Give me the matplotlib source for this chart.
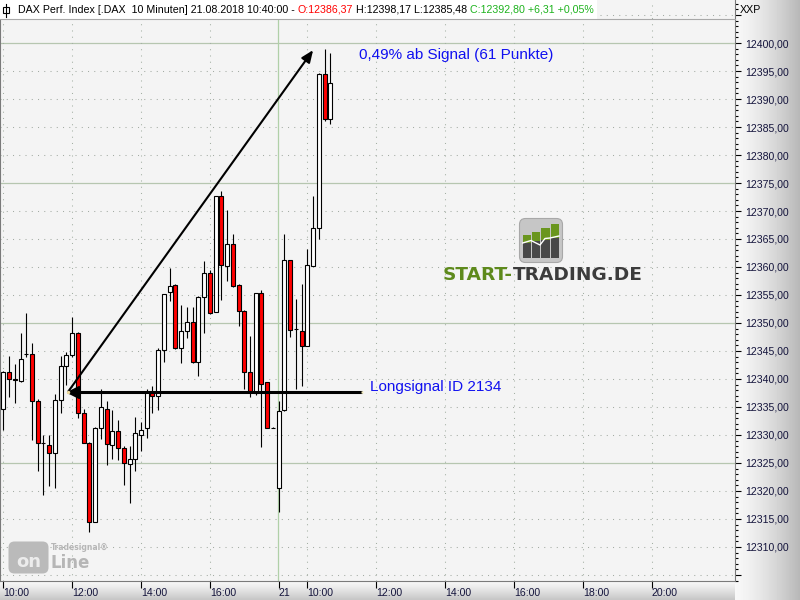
import numpy as np
import matplotlib
matplotlib.use("Agg")
import matplotlib.pyplot as plt
from matplotlib.patches import Rectangle, FancyBboxPatch
from matplotlib.ticker import MultipleLocator, FuncFormatter

plt.rcParams['font.family'] = ['Liberation Sans', 'DejaVu Sans']

# DAX Perf. Index, 10-Minuten-Kerzen: 20.08.2018 10:00 - 21.08.2018 10:40
day1_times = ["10:00", "10:10", "10:20", "10:30", "10:40", "10:50",
              "11:00", "11:10", "11:20", "11:30", "11:40", "11:50",
              "12:00", "12:10", "12:20", "12:30", "12:40", "12:50",
              "13:00", "13:10", "13:20", "13:30", "13:40", "13:50",
              "14:00", "14:10", "14:20", "14:30", "14:40", "14:50",
              "15:00", "15:10", "15:20", "15:30", "15:40", "15:50",
              "16:00", "16:10", "16:20", "16:30", "16:40", "16:50",
              "17:00", "17:10", "17:20", "17:30", "17:40", "17:50"]
day2_times = ["09:10", "09:20", "09:30", "09:40", "09:50",
              "10:00", "10:10", "10:20", "10:30", "10:40"]

opens = [12334.6, 12341.3, 12340.0, 12339.7, 12344.5, 12344.5, 12336.0, 12328.6, 12328.3, 12326.8,
         12336.3, 12342.3, 12344.3, 12348.3, 12333.9, 12328.6, 12314.5, 12331.2, 12334.6, 12328.3,
         12330.8, 12327.6, 12324.8, 12325.7, 12330.0, 12331.2, 12337.6, 12337.0, 12345.2, 12355.6,
         12356.8, 12345.5, 12348.5, 12350.1, 12343.1, 12354.6, 12358.9, 12352.0, 12372.6, 12360.1,
         12364.1, 12356.8, 12352.2, 12341.2, 12337.5, 12355.3, 12339.4, 12331.3,
         12320.5, 12334.5, 12361.3, 12349.0, 12348.6, 12345.9, 12360.2, 12366.9, 12394.5, 12386.37]
highs = [12341.5, 12344.1, 12342.7, 12348.2, 12351.7, 12346.5, 12336.4, 12330.0, 12330.0, 12337.3,
         12344.1, 12344.8, 12351.1, 12348.4, 12334.6, 12328.8, 12331.5, 12338.3, 12336.0, 12334.5,
         12332.7, 12328.0, 12328.0, 12333.2, 12332.4, 12338.2, 12338.8, 12345.5, 12355.2, 12359.9,
         12356.9, 12353.2, 12352.9, 12352.9, 12354.8, 12361.1, 12359.5, 12372.7, 12373.5, 12370.2,
         12365.9, 12356.9, 12352.3, 12347.7, 12355.3, 12355.9, 12339.4, 12331.4,
         12336.0, 12365.9, 12361.3, 12354.2, 12357.0, 12363.2, 12372.7, 12394.6, 12398.9, 12398.17]
lows = [12330.9, 12336.8, 12335.8, 12339.5, 12344.0, 12329.1, 12323.5, 12319.3, 12320.9, 12320.5,
        12333.9, 12338.9, 12344.0, 12333.0, 12328.5, 12312.6, 12314.4, 12329.3, 12324.6, 12325.8,
        12325.5, 12321.0, 12317.8, 12323.6, 12327.2, 12329.4, 12333.9, 12334.5, 12343.1, 12354.0,
        12345.4, 12342.9, 12347.3, 12342.8, 12340.6, 12348.3, 12351.6, 12351.9, 12354.1, 12357.5,
        12356.5, 12349.5, 12338.2, 12336.7, 12337.1, 12327.9, 12331.2, 12331.2,
        12316.3, 12334.3, 12347.5, 12338.3, 12338.8, 12345.9, 12360.1, 12365.0, 12386.0, 12385.48]
closes = [12341.3, 12340.0, 12339.8, 12343.5, 12344.4, 12336.0, 12328.6, 12328.5, 12326.8, 12336.3,
          12342.3, 12344.3, 12348.2, 12333.9, 12328.6, 12314.5, 12331.2, 12335.0, 12328.4, 12330.8,
          12327.6, 12325.0, 12325.7, 12330.3, 12330.9, 12337.6, 12337.0, 12345.2, 12355.1, 12356.6,
          12345.5, 12348.5, 12350.1, 12343.1, 12354.6, 12358.9, 12351.7, 12372.6, 12360.4, 12364.1,
          12356.6, 12352.2, 12341.2, 12337.9, 12355.3, 12339.1, 12331.2, 12331.2,
          12334.2, 12361.3, 12348.8, 12348.9, 12345.9, 12360.4, 12366.9, 12394.5, 12386.49, 12392.80]

# Signal
signal_level = 12337.73
signal_bar = 11.3
signal_points = 61
target_bar = 54.0
line_end_bar = 62.5

# x-axis ticks: (day, time) -> label
tick_spec = [(1, "10:00"), (1, "12:00"), (1, "14:00"), (1, "16:00"), (2, "09:10"), (2, "10:00"),
             (2, "12:00"), (2, "14:00"), (2, "16:00"), (2, "18:00"), (2, "20:00")]
tick_labels = ["10:00", "12:00", "14:00", "16:00", "21", "10:00",
               "12:00", "14:00", "16:00", "18:00", "20:00"]


def to_min(t):
    hh, mm = t.split(':')
    return int(hh) * 60 + int(mm)


day2_start = len(day1_times)


def bar_pos(day, t):
    if day == 1:
        return (to_min(t) - to_min(day1_times[0])) / 10
    return day2_start + (to_min(t) - to_min(day2_times[0])) / 10


tick_pos = [bar_pos(d, t) for d, t in tick_spec]


def fmt(v):
    return f"{v:.2f}".replace('.', ',')


fig = plt.figure(figsize=(8, 6), dpi=100)
fig.patch.set_facecolor('white')

# background bands (axis areas), pixel coordinates
bg = fig.add_axes([0, 0, 1, 1], zorder=-1)
bg.axis('off')
t = np.linspace(0, 1, 65)
right_grad = (0.97 - 0.25 * t ** 1.4)[None, :]
bg.imshow(right_grad, cmap='gray', vmin=0, vmax=1, extent=(735, 800, 600, 0),
          aspect='auto', origin='upper')
tb = np.linspace(0, 1, 20)
bottom_grad = (0.98 - 0.2 * tb ** 1.2)[:, None]
bg.imshow(bottom_grad, cmap='gray', vmin=0, vmax=1, extent=(0, 735, 600, 580.7),
          aspect='auto', origin='upper')
bg.set_xlim(0, 800)
bg.set_ylim(600, 0)

# main chart
ax = fig.add_axes([0, 19.3 / 600, 735 / 800, 580.7 / 600])
ax.set_facecolor('#f4f4f4')
ax.set_xlim(-0.575, 127.54)
ax.set_ylim(12303.98, 12407.68)

# grid
dot = (0, (1, 5))
for lvl in np.arange(12305, 12410, 5):
    if lvl % 25 == 0:
        ax.axhline(lvl, color='#b6c6b0', lw=0.9, zorder=1)
    else:
        ax.axhline(lvl, color='#a4aca4', lw=0.75, ls=dot, zorder=1)
for p, lab in zip(tick_pos, tick_labels):
    if p == day2_start:
        ax.axvline(p - 0.1, color='#b0d0a8', lw=0.9, zorder=1)
    else:
        ax.axvline(p, color='#a4b0a4', lw=0.75, ls=dot, zorder=1)

# candles
o = np.array(opens)
h = np.array(highs)
l = np.array(lows)
c = np.array(closes)
idx = np.arange(len(o))
up = c >= o
ax.vlines(idx, l, h, color='black', lw=0.8, zorder=3)
ax.bar(idx, np.abs(c - o), bottom=np.minimum(o, c), width=0.7,
       color=np.where(up, 'white', '#ff0000'), edgecolor='black', linewidth=0.8, zorder=4)

# signal line and arrow
ax.plot([signal_bar, line_end_bar], [signal_level, signal_level], color='black', lw=2.2,
        solid_capstyle='butt', zorder=5)
ax.annotate('', xy=(target_bar, signal_level + signal_points), xytext=(signal_bar, signal_level),
            arrowprops=dict(arrowstyle='-|>,head_length=0.6,head_width=0.25', color='black',
                            lw=1.5, mutation_scale=12, shrinkA=0, shrinkB=0), zorder=6)
ax.plot(signal_bar + 0.85, signal_level, marker='<', ms=8, color='black', zorder=6)
ax.plot(signal_bar, signal_level, marker='o', ms=2.5, color='#f0dca0', mec='none', zorder=7)
ax.plot(line_end_bar, signal_level, marker='s', ms=2, color='#f8f0c0', mec='none', zorder=7)

pct = signal_points / signal_level * 100
ax.text(62.0, 12397.9, f"{fmt(pct)}% ab Signal ({signal_points} Punkte)",
        color='#1010f0', fontsize=11, va='center', ha='left', zorder=7)
ax.text(63.9, 12338.6, "Longsignal ID 2134", color='#1010f0', fontsize=11,
        va='center', ha='left', zorder=7)

# axes
ax.yaxis.tick_right()
ax.yaxis.set_major_locator(MultipleLocator(5))
ax.yaxis.set_minor_locator(MultipleLocator(1))
ax.yaxis.set_major_formatter(FuncFormatter(lambda v, _: fmt(v) if 12307 < v <= 12400 else ''))
ax.tick_params(axis='y', which='major', length=4, width=0.8, direction='out', pad=3,
               labelsize=7.6, labelcolor='#14143c', color='black')
ax.tick_params(axis='y', which='minor', length=2, width=0.8, direction='out', color='black')
ax.set_xticks(tick_pos)
ax.set_xticklabels(tick_labels)
ax.tick_params(axis='x', length=5, width=0.8, direction='out', pad=0.5,
               labelsize=7.6, labelcolor='#14143c', color='black')
plt.setp(ax.get_xticklabels(), ha='left')
for side in ['left', 'right', 'bottom']:
    ax.spines[side].set_color('#7a7a7a')
    ax.spines[side].set_linewidth(0.8)
ax.spines['top'].set_visible(False)

# overlay: header and logos, pixel coordinates
ov = fig.add_axes([0, 0, 1, 1], zorder=5)
ov.set_xlim(0, 800)
ov.set_ylim(600, 0)
ov.axis('off')

ov.add_patch(Rectangle((0, 0), 597, 19, facecolor='white', edgecolor='none'))
ov.plot([0, 735], [19, 19], color='#a8a8a8', lw=0.8)
ov.plot([5.5, 5.5], [3.5, 16.5], color='black', lw=0.8)
ov.add_patch(Rectangle((2.5, 7), 6, 6, facecolor='white', edgecolor='black', lw=0.8))

chg = closes[-1] - closes[-2]
chg_pct = chg / closes[-2] * 100
segments = [("DAX Perf. Index [.DAX  10 Minuten] 21.08.2018 10:40:00 -", 'black'),
            (f"O:{fmt(opens[-1])}", '#ff0000'),
            (f"H:{fmt(highs[-1])} L:{fmt(lows[-1])}", 'black'),
            (f"C:{fmt(closes[-1])} +{fmt(chg)} +{fmt(chg_pct)}%", '#1db31d')]
prev = ov.text(18, 10, segments[0][0], color=segments[0][1], fontsize=7.7, va='center', ha='left')
for txt, col in segments[1:]:
    prev = ov.annotate(txt, xy=(1, 0), xycoords=prev, xytext=(2.2, 0), textcoords='offset points',
                       color=col, fontsize=7.7, va='bottom', ha='left')
ov.text(740, 10, "XXP", fontsize=7.7, va='center', ha='left', color='black')

# START-TRADING.DE logo
ov.add_patch(FancyBboxPatch((519.5, 218.5), 43, 44, boxstyle='round,pad=0,rounding_size=6',
                            facecolor='#c6c6c6', edgecolor='#a8a8a8', lw=0.8))
bar_x = [522.7, 532.0, 541.3, 550.7]
bar_top = [235, 231.7, 228.3, 224]
bar_mid = [243, 241, 240, 238]
for bx, bt, bm in zip(bar_x, bar_top, bar_mid):
    ov.add_patch(Rectangle((bx, bt), 8.3, bm - bt, facecolor='#6a961e', edgecolor='none'))
    ov.add_patch(Rectangle((bx, bm), 8.3, 257.5 - bm, facecolor='#484848', edgecolor='none'))
ov.plot([522.7, 531, 540, 545, 550, 559], [243, 240.5, 245, 238.5, 238, 236], color='white', lw=1)
st = ov.text(443, 275, "START-", color='#5e8a1c', fontsize=13.3, fontweight='bold',
             family='DejaVu Sans', va='center', ha='left')
ov.annotate("TRADING.DE", xy=(1, 0), xycoords=st, color='#3c3c3c', fontsize=13.3,
            fontweight='bold', family='DejaVu Sans', va='bottom', ha='left')

# Tradesignal online logo
ov.add_patch(FancyBboxPatch((8.5, 541.5), 40, 32, boxstyle='round,pad=0,rounding_size=6',
                            facecolor='#bababa', edgecolor='none'))
ov.text(28.5, 567, "on", color='#ececec', fontsize=13, fontweight='bold',
        family='DejaVu Sans', va='baseline', ha='center')
ov.text(50, 567.5, "Line", color='#b6b6b6', fontsize=12, fontweight='bold',
        family='DejaVu Sans', va='baseline', ha='left')
ov.text(50.5, 547.5, "Tradesignal®", color='#b6b6b6', fontsize=5.5, fontweight='bold',
        family='DejaVu Sans', va='center', ha='left')

fig.savefig('out.png', dpi=100)
